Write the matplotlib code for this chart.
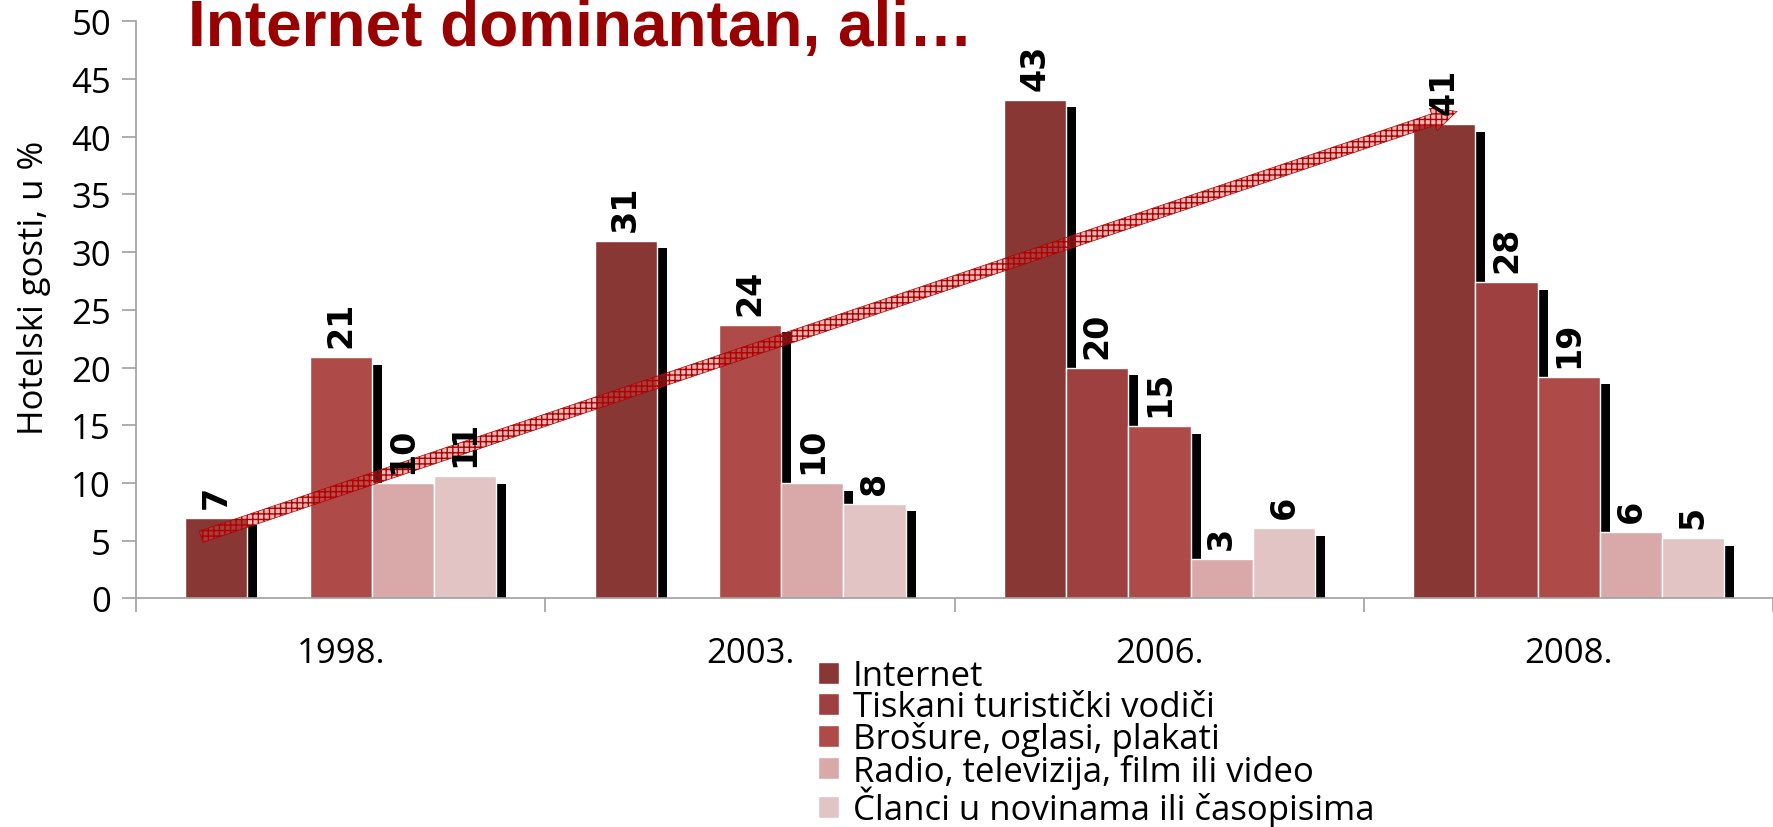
import numpy as np
import matplotlib
matplotlib.use("Agg")
import matplotlib.pyplot as plt
from matplotlib.patches import FancyArrowPatch, Patch

years = ["1998.", "2003.", "2006.", "2008."]
series = [
    "Internet",
    "Tiskani turistički vodiči",
    "Brošure, oglasi, plakati",
    "Radio, televizija, film ili video",
    "Članci u novinama ili časopisima",
]
internet = [7.0, 31.0, 43.2, 41.1]
tiskani = [np.nan, np.nan, 20.0, 27.4]
brosure = [20.9, 23.7, 14.9, 19.2]
radio = [10.0, 10.0, 3.4, 5.8]
clanci = [10.6, 8.2, 6.1, 5.2]
labels_internet = [7, 31, 43, 41]
labels_tiskani = [None, None, 20, 28]
labels_brosure = [21, 24, 15, 19]
labels_radio = [10, 10, 3, 6]
labels_clanci = [11, 8, 6, 5]

colors = ["#883735", "#9E403F", "#AE4A48", "#D9A9A9", "#E3C4C4"]
title = "Internet dominantan, ali…"
ylabel = "Hotelski gosti, u %"

values = [internet, tiskani, brosure, radio, clanci]
value_labels = [labels_internet, labels_tiskani, labels_brosure, labels_radio, labels_clanci]

plt.rcParams['font.family'] = ['Open Sans', 'DejaVu Sans']

fig = plt.figure(figsize=(17.74, 8.28), dpi=100)
ax = fig.add_axes([0.0767, 0.276, 0.923, 0.697])

x = np.arange(len(years))
bw = 0.152
shadow_w = 0.0244
shadow_drop = 0.65

for i, (vals, labs) in enumerate(zip(values, value_labels)):
    pos = x + (i - 2) * bw
    v = np.array(vals, dtype=float)
    # black strip to the right of each bar, sits behind the next bar
    ax.bar(pos + bw / 2, v - shadow_drop, width=shadow_w, align='edge',
           color='black', zorder=1)
    ax.bar(pos, v, width=bw, color=colors[i], edgecolor='white', lw=1,
           zorder=2, label=series[i])
    for px, val, lab in zip(pos, v, labs):
        if lab is None:
            continue
        ax.annotate(str(lab), (px, val), xytext=(0, 10), textcoords='offset pixels',
                    rotation=90, ha='center', va='bottom', fontsize=24,
                    fontweight='bold', family='DejaVu Sans', zorder=5)

# trend arrow over the internet bars
arrow = FancyArrowPatch((-0.341, 5.35), (2.727, 42.2),
                        arrowstyle='simple,head_width=17,head_length=18,tail_width=8.5',
                        mutation_scale=1, shrinkA=0, shrinkB=0,
                        facecolor=(0.8, 0.3, 0.3, 0.4), edgecolor='#B00000',
                        lw=0.5, hatch='+++', zorder=4)
ax.add_patch(arrow)

ax.set_xlim(-0.5, 3.5)
ax.set_ylim(0, 50)
ax.set_yticks(np.arange(0, 51, 5))
ax.set_xticks(x)
ax.set_xticklabels(years)
ax.set_xticks(np.arange(-0.5, 3.6, 1), minor=True)
ax.tick_params(axis='x', which='major', length=0, pad=27, labelsize=25)
ax.tick_params(axis='x', which='minor', length=10, color='#A0A0A0', width=1.2)
ax.tick_params(axis='y', length=10, color='#A0A0A0', width=1.2, pad=8, labelsize=25)
for s in ['top', 'right']:
    ax.spines[s].set_visible(False)
for s in ['left', 'bottom']:
    ax.spines[s].set_color('#A0A0A0')
    ax.spines[s].set_linewidth(1.2)

fig.text(0.019, 0.652, ylabel, rotation=90, ha='center', va='center', fontsize=25)

fig.text(0.106, 0.9445, title, ha='left', va='baseline', fontsize=46,
         fontweight='bold', color='#990000',
         family=['Liberation Sans', 'DejaVu Sans'])

handles = [Patch(facecolor=c, edgecolor='white') for c in colors]
fig.legend(handles, series, loc='upper left', bbox_to_anchor=(0.461, 0.203),
           frameon=False, fontsize=25, handlelength=0.6, handleheight=0.6,
           handletextpad=0.4, labelspacing=-0.08, borderpad=0, borderaxespad=0)

fig.savefig("out.png", dpi=100)
